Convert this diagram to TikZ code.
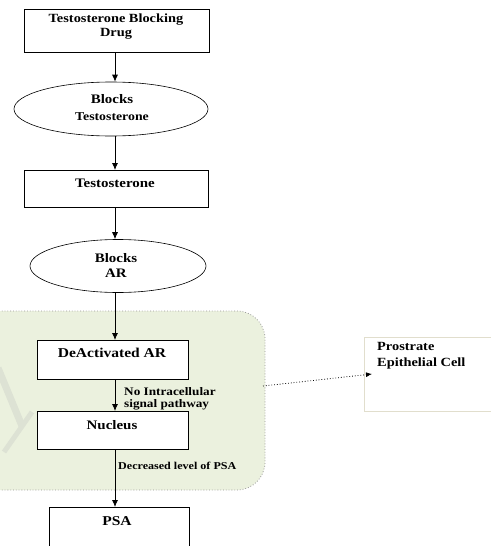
\documentclass[tikz,border=0pt]{standalone}
\usepackage{fontspec}
\setmainfont{Liberation Serif}[FakeStretch=1.15]
\usetikzlibrary{arrows.meta,shapes.geometric}
\definecolor{cellgreen}{RGB}{235,241,222}
\definecolor{cellborder}{RGB}{150,150,150}
\definecolor{palebox}{RGB}{225,222,205}
\definecolor{faintmark}{RGB}{221,226,212}
\newcommand{\sz}[2]{\bfseries\fontsize{#1}{#2}\selectfont}
\begin{document}
\begin{tikzpicture}[x=1pt,y=-1pt,
  stepbox/.style={draw=black,line width=0.8pt,fill=white,inner sep=0pt,anchor=north west},
  oval/.style={draw=black,line width=0.6pt,fill=white,ellipse,inner sep=0pt},
  txt/.style={inner sep=0pt,align=center,anchor=center},
  flow/.style={draw=black,line width=0.8pt,-{Latex[length=7pt,width=6pt]}},
  note/.style={inner sep=0pt,align=left,anchor=west},
]
\useasboundingbox (0,0) rectangle (490,546);
\begin{scope}
\clip (0,0) rectangle (490,546);
% cell region
\draw[fill=cellgreen,draw=cellborder,dotted,line width=0.8pt,rounded corners=28pt]
  (-30,311) rectangle (265,490);
% faint mark inside the cell region
\draw[faintmark,line width=7pt] (-2,368) -- (22,426);
\draw[faintmark,line width=5pt] (32,412) -- (4,452);
\end{scope}

% boxes and ovals of the pathway
\node[stepbox,minimum width=185pt,minimum height=43pt] (drug) at (24,9) {};
\node[txt,font=\sz{12.5}{14}] (drugtxt) at (116,27) {Testosterone Blocking\\Drug};

\node[oval,minimum width=194pt,minimum height=54pt] (blk1) at (111,109) {};
\node[txt,font=\sz{13}{17}] (blk1txt) at (112,108) {Blocks\\{\fontsize{12}{14}\selectfont Testosterone}};

\node[stepbox,minimum width=184pt,minimum height=37pt] (testo) at (24,170) {};
\node[txt,font=\sz{13}{15}] (testotxt) at (115,183) {Testosterone};

\node[oval,minimum width=176pt,minimum height=53pt] (blk2) at (118,266) {};
\node[txt,font=\sz{13}{15}] (blk2txt) at (116,265) {Blocks\\AR};

\node[stepbox,minimum width=151pt,minimum height=39pt] (deact) at (37,340) {};
\node[txt,font=\sz{13.5}{15}] (deacttxt) at (112,353) {DeActivated AR};

\node[stepbox,minimum width=151pt,minimum height=38pt] (nuc) at (37,411) {};
\node[txt,font=\sz{13}{15}] (nuctxt) at (112,425) {Nucleus};

\node[stepbox,minimum width=140pt,minimum height=50pt] (psa) at (49,507) {};
\node[txt,font=\sz{13.5}{15}] (psatxt) at (117,521) {PSA};

\node[draw=palebox,line width=0.6pt,fill=white,minimum width=140pt,minimum height=74pt,anchor=north west,inner sep=0pt] (cell) at (364,337) {};
\node[note,font=\sz{12.5}{16}] (celltxt) at (377,356) {Prostrate\\Epithelial Cell};

% connectors
\draw[flow] (drug.south -| 115,0) -- (blk1.north -| 115,0);
\draw[flow] (blk1.south -| 115,0) -- (testo.north -| 115,0);
\draw[flow] (testo.south -| 115,0) -- (blk2.north -| 115,0);
\draw[flow] (blk2.south -| 115,0) -- (deact.north -| 115,0);
\draw[flow] (deact.south -| 115,0) -- (nuc.north -| 115,0);
\draw[flow] (nuc.south -| 115,0) -- (psa.north -| 115,0);
\coordinate (cellexit) at (263,386);
\draw[dotted,line width=0.8pt,-{Latex[length=6pt,width=5pt]}] (cellexit) -- (372,374);

% labels on connectors
\node[note,font=\sz{11.5}{12.5}] (sig) at (124,399) {No Intracellular\\signal pathway};
\node[note,font=\sz{10.5}{12}] (dec) at (118,466) {Decreased level of PSA};
\end{tikzpicture}
\end{document}
